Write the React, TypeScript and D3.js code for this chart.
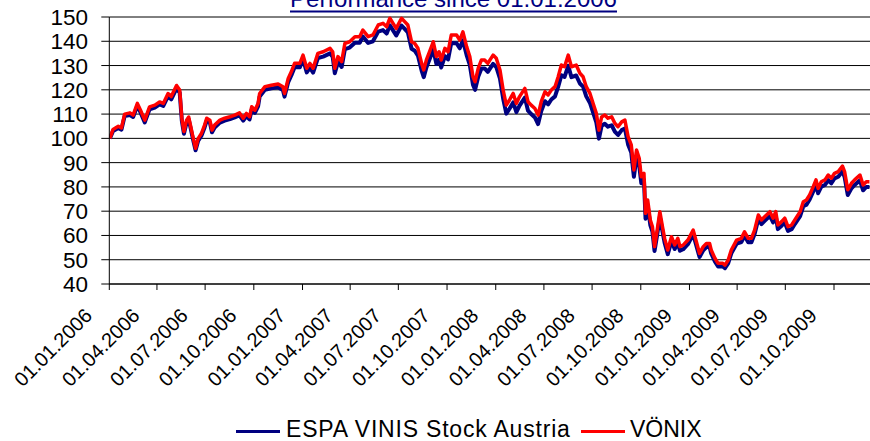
import React from 'react';
import * as d3 from 'd3';

const dates = [
  '2006-01-02','2006-01-08','2006-01-18','2006-01-24','2006-01-30','2006-02-09','2006-02-15','2006-02-23','2006-03-01','2006-03-09',
  '2006-03-18','2006-03-28','2006-04-06','2006-04-13','2006-04-22','2006-04-28','2006-05-08','2006-05-14','2006-05-18','2006-05-22',
  '2006-05-27','2006-05-31','2006-06-04','2006-06-08','2006-06-13','2006-06-18','2006-06-24','2006-06-30','2006-07-04','2006-07-10',
  '2006-07-14','2006-07-19','2006-07-29','2006-08-07','2006-08-17','2006-08-26','2006-09-04','2006-09-11','2006-09-17','2006-09-23',
  '2006-09-27','2006-10-03','2006-10-09','2006-10-12','2006-10-22','2006-11-03','2006-11-16','2006-11-25','2006-11-28','2006-12-05',
  '2006-12-11','2006-12-17','2006-12-27','2007-01-02','2007-01-09','2007-01-15','2007-01-21','2007-01-30','2007-02-09','2007-02-22',
  '2007-02-27','2007-03-03','2007-03-09','2007-03-16','2007-03-22','2007-03-31','2007-04-10','2007-04-19','2007-04-25','2007-05-05',
  '2007-05-14','2007-05-24','2007-06-02','2007-06-09','2007-06-15','2007-06-21','2007-06-27','2007-07-07','2007-07-13','2007-07-19',
  '2007-07-26','2007-08-01','2007-08-07','2007-08-14','2007-08-18','2007-08-23','2007-08-29','2007-09-05','2007-09-11','2007-09-16',
  '2007-09-20','2007-09-27','2007-10-03','2007-10-09','2007-10-19','2007-10-25','2007-10-31','2007-11-07','2007-11-13','2007-11-19',
  '2007-11-23','2007-11-29','2007-12-05','2007-12-11','2007-12-17','2007-12-27','2008-01-02','2008-01-09','2008-01-15','2008-01-21',
  '2008-01-27','2008-02-03','2008-02-09','2008-02-15','2008-02-25','2008-03-02','2008-03-08','2008-03-15','2008-03-21','2008-03-27',
  '2008-04-03','2008-04-09','2008-04-15','2008-04-22','2008-04-28','2008-05-04','2008-05-10','2008-05-17','2008-05-23','2008-06-01',
  '2008-06-08','2008-06-14','2008-06-20','2008-06-27','2008-07-03','2008-07-09','2008-07-14','2008-07-19','2008-07-25','2008-07-31',
  '2008-08-07','2008-08-13','2008-08-19','2008-08-26','2008-09-01','2008-09-07','2008-09-13','2008-09-18','2008-09-23','2008-09-28',
  '2008-10-02','2008-10-07','2008-10-10','2008-10-14','2008-10-19','2008-10-23','2008-10-27','2008-11-01','2008-11-06','2008-11-11',
  '2008-11-15','2008-11-21','2008-11-28','2008-12-04','2008-12-10','2008-12-14','2008-12-20','2008-12-29','2009-01-08','2009-01-14',
  '2009-01-20','2009-01-27','2009-02-02','2009-02-08','2009-02-11','2009-02-18','2009-02-24','2009-03-05','2009-03-09','2009-03-15',
  '2009-03-21','2009-03-31','2009-04-09','2009-04-15','2009-04-22','2009-04-28','2009-05-04','2009-05-11','2009-05-17','2009-05-23',
  '2009-06-02','2009-06-08','2009-06-13','2009-06-17','2009-06-24','2009-06-30','2009-07-06','2009-07-13','2009-07-19','2009-07-29',
  '2009-08-04','2009-08-10','2009-08-16','2009-08-23','2009-08-28','2009-09-01','2009-09-07','2009-09-14','2009-09-20','2009-09-26',
  '2009-10-02','2009-10-09','2009-10-17','2009-10-21','2009-10-27','2009-11-03','2009-11-09','2009-11-19','2009-11-25','2009-12-01',
  '2009-12-07',
];

const vonix = [
  100.0,103.7,105.0,104.3,110.0,110.5,109.6,114.4,111.6,107.5,
  113.0,113.7,115.0,114.4,118.5,117.2,121.8,119.9,108.3,102.8,
  107.5,108.8,104.7,100.6,95.9,100.0,102.0,105.5,108.3,107.5,
  103.4,105.5,107.5,108.3,108.9,109.6,110.5,108.3,110.3,108.9,
  113.0,111.6,114.4,118.5,121.3,121.9,122.4,121.3,118.5,124.7,
  127.5,130.9,130.9,134.3,128.9,130.9,128.9,135.0,135.7,137.1,
  135.7,128.9,133.7,131.6,139.1,139.8,141.9,141.9,144.6,141.9,
  142.6,146.7,147.4,146.0,149.5,147.4,145.3,149.5,148.1,146.7,
  139.8,139.1,137.1,130.9,128.2,132.3,135.7,139.8,133.7,135.7,
  132.3,137.1,135.7,142.6,142.6,140.5,143.9,137.8,133.7,125.4,
  123.3,128.9,132.3,132.3,130.9,134.3,133.0,128.2,119.9,113.7,
  115.8,118.5,114.4,117.2,120.6,115.1,113.7,112.3,109.6,115.1,
  119.2,117.9,119.9,121.3,125.4,130.2,129.5,134.3,129.5,130.2,
  126.8,125.4,121.3,118.5,114.4,110.3,103.4,108.8,109.6,108.3,
  108.9,106.2,104.8,106.8,107.5,100.7,97.3,87.0,95.2,91.8,
  84.2,85.6,69.1,74.6,66.4,63.6,55.4,62.2,69.8,63.6,
  58.8,54.0,59.5,56.1,58.8,55.4,56.0,58.1,62.2,57.4,
  52.6,55.4,56.7,56.7,54.0,50.6,48.5,48.5,47.8,49.8,
  54.0,58.1,58.8,61.5,58.8,58.8,62.2,68.4,66.4,67.7,
  69.8,67.1,69.8,64.3,65.7,67.1,63.6,64.3,66.4,69.8,
  73.9,74.6,76.7,80.2,82.9,79.4,82.1,82.9,84.9,83.6,
  85.6,86.3,88.6,86.3,78.8,81.5,82.9,84.9,80.8,82.1,
  82.1,
];

const espa = [
  100.0,103.0,104.3,103.6,109.2,109.6,108.8,113.5,110.7,106.6,
  112.0,112.7,114.0,113.4,117.4,116.1,120.6,118.8,107.3,101.9,
  106.5,107.8,103.8,99.7,95.1,99.1,101.1,104.5,107.3,106.5,
  102.5,104.5,106.5,107.3,107.9,108.6,109.5,107.3,109.2,107.8,
  111.9,110.5,113.2,117.2,120.0,120.6,121.0,119.9,117.2,123.2,
  126.0,129.3,129.3,132.6,127.2,129.1,127.1,133.1,133.7,135.0,
  133.6,126.8,131.5,129.4,136.8,137.4,139.4,139.4,142.0,139.3,
  140.0,144.0,144.6,143.2,146.6,144.5,142.4,146.5,145.1,143.7,
  136.9,136.1,134.1,127.9,125.2,129.2,132.6,136.6,130.6,132.5,
  129.2,133.9,132.5,139.3,139.2,137.1,140.4,134.3,130.3,122.1,
  120.0,125.5,128.8,128.8,127.4,130.7,129.4,124.6,116.4,110.2,
  112.2,114.8,110.8,113.5,116.8,111.4,110.0,108.6,105.9,111.3,
  115.3,114.0,116.0,117.3,121.3,126.0,125.3,129.9,125.2,125.9,
  122.6,121.3,117.3,114.6,110.6,106.6,99.9,105.2,106.0,104.8,
  105.4,102.8,101.4,103.4,104.1,97.5,94.2,84.2,92.2,88.9,
  81.5,82.9,66.9,72.3,64.3,61.6,53.6,60.3,67.7,61.7,
  57.0,52.3,57.7,54.4,57.0,53.7,54.3,56.4,60.5,55.8,
  51.1,53.9,55.2,55.2,52.6,49.3,47.2,47.2,46.5,48.5,
  52.6,56.6,57.3,59.9,57.2,57.2,60.6,66.7,64.7,66.0,
  68.1,65.4,68.0,62.6,64.0,65.4,61.9,62.6,64.7,68.0,
  72.0,72.7,74.8,78.2,80.9,77.4,80.1,80.8,82.8,81.5,
  83.5,84.2,86.4,84.1,76.7,79.4,80.8,82.7,78.6,80.0,
  80.0,
];

const yTicks = [40, 50, 60, 70, 80, 90, 100, 110, 120, 130, 140, 150];

const xTickLabels = [
  '01.01.2006','01.04.2006','01.07.2006','01.10.2006',
  '01.01.2007','01.04.2007','01.07.2007','01.10.2007',
  '01.01.2008','01.04.2008','01.07.2008','01.10.2008',
  '01.01.2009','01.04.2009','01.07.2009','01.10.2009',
];

const seriesNames = ['ESPA VINIS Stock Austria', 'VÖNIX'];
const titleText = 'Performance since 01.01.2006';

const FONT = "'Liberation Sans', Arial, Helvetica, sans-serif";

export default function App() {
  const W = 870;
  const H = 441;
  const left = 109.3;
  const right = 870;
  const top = 17;
  const bottom = 284;

  const parseIso = d3.timeParse('%Y-%m-%d');
  const parseLbl = d3.timeParse('%d.%m.%Y');
  const tickDates = xTickLabels.map((l) => parseLbl(l) as Date);

  const x = d3
    .scaleTime()
    .domain([tickDates[0], tickDates[tickDates.length - 1]])
    .range([left, 834]);
  const y = d3.scaleLinear().domain([40, 150]).range([bottom, top]);

  const pts = dates.map((d) => parseIso(d) as Date);
  const line = d3
    .line<number>()
    .x((_, i) => x(pts[i]))
    .y((v) => y(v))
    .curve(d3.curveLinear);

  return (
    <svg
      width={W}
      height={H}
      style={{ position: 'fixed', left: 0, top: 0, background: '#fff' }}
      fontFamily={FONT}
    >
      <rect x={0} y={0} width={W} height={H} fill="#fff" />
      {/* title */}
      <text x={453.5} y={7} textAnchor="middle" fontSize={24} fill="#000080">
        {titleText}
      </text>
      <line x1={290} x2={617} y1={11.5} y2={11.5} stroke="#000080" strokeWidth={2} />

      {/* gridlines */}
      {yTicks.map((t) => (
        <line key={'g' + t} x1={left} x2={right} y1={y(t)} y2={y(t)} stroke="#000" strokeWidth={1} />
      ))}

      <defs>
        <clipPath id="plotclip">
          <rect x={left} y={0} width={right - left} height={bottom + 5} />
        </clipPath>
      </defs>

      {/* series */}
      <g clipPath="url(#plotclip)">
        <path d={line(espa) || ''} fill="none" stroke="#000080" strokeWidth={4} strokeLinejoin="round" />
        <path d={line(vonix) || ''} fill="none" stroke="#FF0000" strokeWidth={3.5} strokeLinejoin="round" />
      </g>

      {/* y axis */}
      <line x1={left} x2={left} y1={top} y2={bottom} stroke="#000" strokeWidth={1} />
      {yTicks.map((t) => (
        <g key={'yt' + t}>
          <line x1={left - 8} x2={left} y1={y(t)} y2={y(t)} stroke="#000" strokeWidth={1} />
          <text x={88} y={y(t) + 8} textAnchor="end" fontSize={22.5} fill="#000">
            {t}
          </text>
        </g>
      ))}

      {/* x axis */}
      <line x1={left} x2={right} y1={bottom} y2={bottom} stroke="#000" strokeWidth={1} />
      {tickDates.map((d, i) => (
        <g key={'xt' + i}>
          <line x1={x(d)} x2={x(d)} y1={bottom} y2={bottom + 6} stroke="#000" strokeWidth={1} />
          <text
            transform={`translate(${x(d) - 16},${bottom + 33}) rotate(-45)`}
            textAnchor="end"
            fontSize={20}
            fill="#000"
          >
            {xTickLabels[i]}
          </text>
        </g>
      ))}

      {/* legend */}
      <line x1={236} x2={280} y1={431.5} y2={431.5} stroke="#000080" strokeWidth={3} />
      <text x={286} y={437} fontSize={23} fill="#000" letterSpacing={0.8}>
        {seriesNames[0]}
      </text>
      <line x1={581} x2={625} y1={431.5} y2={431.5} stroke="#FF0000" strokeWidth={3} />
      <text x={630} y={437} fontSize={23} fill="#000">
        {seriesNames[1]}
      </text>
    </svg>
  );
}
